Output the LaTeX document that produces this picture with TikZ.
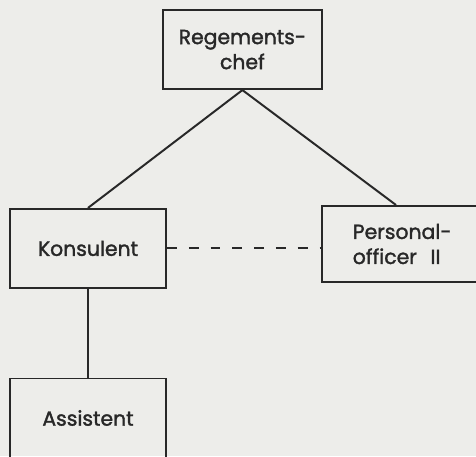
\documentclass[tikz,border=0pt]{standalone}
\usepackage{fontspec}
\setmainfont{Poppins}[BoldFont=Poppins, BoldFeatures={FakeBold=1.6}]
\usepackage{xcolor}
\usepackage{tikz}
\usetikzlibrary{positioning,calc}

\definecolor{paper}{RGB}{237,237,234}
\definecolor{ink}{RGB}{40,40,40}

\begin{document}
\begin{tikzpicture}[
    org box/.style={rectangle, draw=ink, line width=1.4pt, minimum width=3.9cm, minimum height=1.975cm, align=center, text=ink, font=\fontsize{14.5}{17.8}\selectfont\bfseries},
    link/.style={draw=ink, line width=1.4pt},
    staff link/.style={link, dash pattern=on 7pt off 8.5pt}
]
    % Page (clipped, part of the chart runs off the edge)
    \clip (0,0) rectangle (11.9,11.4);
    \fill[paper] (0,0) rectangle (11.9,11.4);

    % Boxes
    \node[org box, minimum width=3.975cm] (chef) at (6.06,10.16) {Regements-\\chef};
    \node[org box] (kons) at (2.2,5.19) {Konsulent};
    \node[org box, minimum width=4.5cm, minimum height=1.9cm, text width=3.4cm, align=left, inner sep=0pt] (pers) at (10.3,5.3) {\hspace*{0.22cm}Personal-\\\hspace*{0.22cm}officer\ \ II};
    \node[org box] (asst) at (2.2,0.95) {Assistent};
    \coordinate (pers top) at ([xshift=1.875cm]pers.north west);

    % Lines of command
    \draw[link] (chef.south) -- (kons.north);
    \draw[link] (chef.south) -- (pers top);
    \draw[link] (kons.south) -- (asst.north);

    % Staff connection
    \draw[staff link] (kons.east) -- (kons.east -| pers.west);
\end{tikzpicture}
\end{document}
